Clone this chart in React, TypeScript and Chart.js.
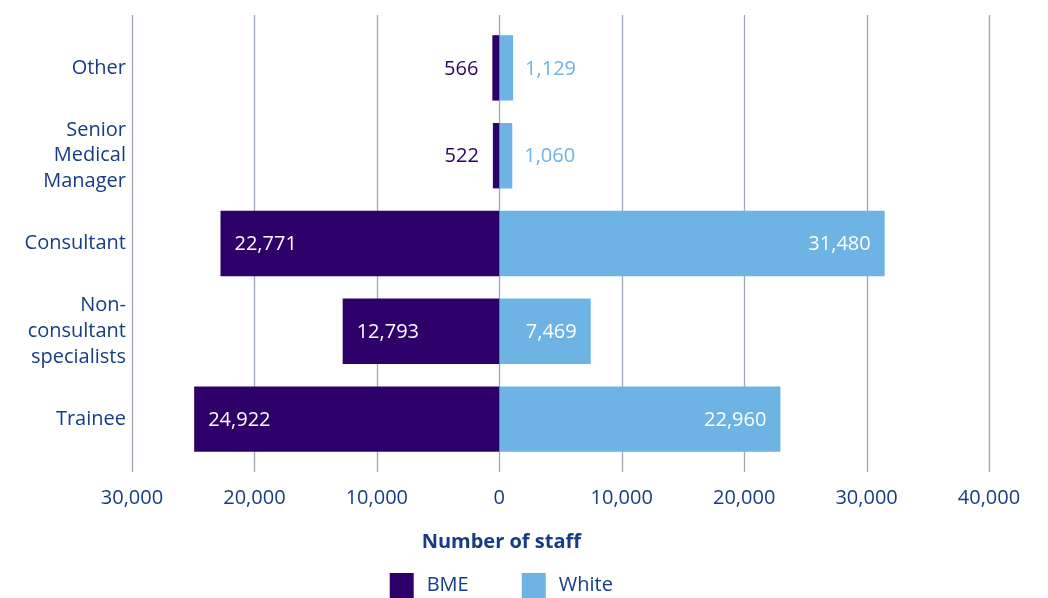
import React, { useEffect, useRef } from "react";
import { Chart, registerables } from "chart.js";

Chart.register(...registerables);

const categories: string[][] = [
  ["Other"],
  ["Senior", "Medical", "Manager"],
  ["Consultant"],
  ["Non-", "consultant", "specialists"],
  ["Trainee"],
];
const bmeValues: number[] = [566, 522, 22771, 12793, 24922];
const whiteValues: number[] = [1129, 1060, 31480, 7469, 22960];
const seriesNames: string[] = ["BME", "White"];
const xTicks: number[] = [-30000, -20000, -10000, 0, 10000, 20000, 30000, 40000];
const axisTitle = "Number of staff";

const BME_COLOR = "#2E0069";
const WHITE_COLOR = "#6DB3E3";
const TEXT_COLOR = "#163C85";
const GRID_COLOR = "#9EA7B6";
const FONT = "'Open Sans', 'Noto Sans', sans-serif";

const fmt = (v: number) => Math.abs(v).toLocaleString("en-US");

const gridPlugin = {
  id: "extGrid",
  beforeDatasetsDraw(chart: any) {
    const { ctx, chartArea, scales } = chart;
    const xs = scales.x;
    ctx.save();
    ctx.strokeStyle = GRID_COLOR;
    ctx.lineWidth = 1.3;
    xTicks.forEach((t) => {
      const px = Math.round(xs.getPixelForValue(t)) + 0.5;
      ctx.beginPath();
      ctx.moveTo(px, chartArea.top - 9);
      ctx.lineTo(px, chartArea.bottom + 9);
      ctx.stroke();
    });
    ctx.restore();
  },
};

const labelPlugin = {
  id: "barLabels",
  afterDatasetsDraw(chart: any) {
    const { ctx } = chart;
    ctx.save();
    ctx.font = `20px ${FONT}`;
    ctx.textBaseline = "middle";
    chart.data.datasets.forEach((ds: any, di: number) => {
      const meta = chart.getDatasetMeta(di);
      meta.data.forEach((bar: any, i: number) => {
        const v = ds.data[i];
        const text = fmt(v);
        const w = Math.abs(bar.x - bar.base);
        const y = bar.y + 1;
        if (v < 0) {
          if (w > 80) {
            ctx.fillStyle = "#FFFFFF";
            ctx.textAlign = "left";
            ctx.fillText(text, bar.x + 14, y);
          } else {
            ctx.fillStyle = BME_COLOR;
            ctx.textAlign = "right";
            ctx.fillText(text, bar.x - 14, y);
          }
        } else {
          if (w > 70) {
            ctx.fillStyle = "#FFFFFF";
            ctx.textAlign = "right";
            ctx.fillText(text, bar.x - 14, y);
          } else {
            ctx.fillStyle = WHITE_COLOR;
            ctx.textAlign = "left";
            ctx.fillText(text, bar.x + 12, y);
          }
        }
      });
    });
    ctx.restore();
  },
};

const footerPlugin = {
  id: "footer",
  afterDraw(chart: any) {
    const { ctx, scales } = chart;
    const cx = scales.x.getPixelForValue(0) + 2;
    ctx.save();
    ctx.fillStyle = TEXT_COLOR;
    ctx.textBaseline = "middle";
    ctx.textAlign = "center";
    ctx.font = `bold 20px ${FONT}`;
    ctx.fillText(axisTitle, cx, 542);

    ctx.font = `20px ${FONT}`;
    const box = 24;
    const gapText = 13;
    const gapItem = 53;
    const colors = [BME_COLOR, WHITE_COLOR];
    const widths = seriesNames.map((n) => box + gapText + ctx.measureText(n).width);
    const total = widths.reduce((a, b) => a + b, 0) + gapItem * (seriesNames.length - 1);
    let x = cx - total / 2;
    const yTop = 573;
    seriesNames.forEach((n, i) => {
      ctx.fillStyle = colors[i];
      ctx.fillRect(x, yTop, box, 27);
      ctx.fillStyle = TEXT_COLOR;
      ctx.textAlign = "left";
      ctx.fillText(n, x + box + gapText, yTop + 12);
      x += widths[i] + gapItem;
    });
    ctx.restore();
  },
};

export default function App() {
  const ref = useRef<HTMLCanvasElement | null>(null);
  useEffect(() => {
    if (!ref.current) return;
    const chart = new Chart(ref.current, {
      type: "bar",
      data: {
        labels: categories,
        datasets: [
          {
            label: seriesNames[0],
            data: bmeValues.map((v) => -v),
            backgroundColor: BME_COLOR,
            categoryPercentage: 1,
            barPercentage: 0.745,
          },
          {
            label: seriesNames[1],
            data: whiteValues,
            backgroundColor: WHITE_COLOR,
            categoryPercentage: 1,
            barPercentage: 0.745,
          },
        ],
      },
      options: {
        indexAxis: "y",
        animation: false,
        responsive: false,
        maintainAspectRatio: false,
        layout: { padding: { top: 24, right: 59, bottom: 65, left: 0 } },
        plugins: {
          legend: { display: false },
          tooltip: { enabled: false },
        },
        scales: {
          x: {
            stacked: true,
            min: -30000,
            max: 40000,
            afterBuildTicks: (scale: any) => {
              scale.ticks = xTicks.map((v) => ({ value: v }));
            },
            grid: { display: false, drawTicks: false },
            border: { display: false },
            ticks: {
              padding: 23,
              color: TEXT_COLOR,
              font: { family: FONT, size: 20 },
              callback: (v: any) => fmt(Number(v)),
              maxRotation: 0,
            },
          },
          y: {
            stacked: true,
            grid: { display: false, drawTicks: false },
            border: { display: false },
            afterFit: (scale: any) => {
              scale.width = 132;
            },
            ticks: {
              padding: 6,
              color: TEXT_COLOR,
              font: { family: FONT, size: 20, lineHeight: 1.28 },
            },
          },
        },
      },
      plugins: [gridPlugin, labelPlugin, footerPlugin],
    });
    return () => chart.destroy();
  }, []);
  return (
    <div style={{ position: "fixed", left: 0, top: 0, width: 1048, height: 598, background: "#fff" }}>
      <canvas ref={ref} width={1048} height={598} style={{ display: "block" }} />
    </div>
  );
}
